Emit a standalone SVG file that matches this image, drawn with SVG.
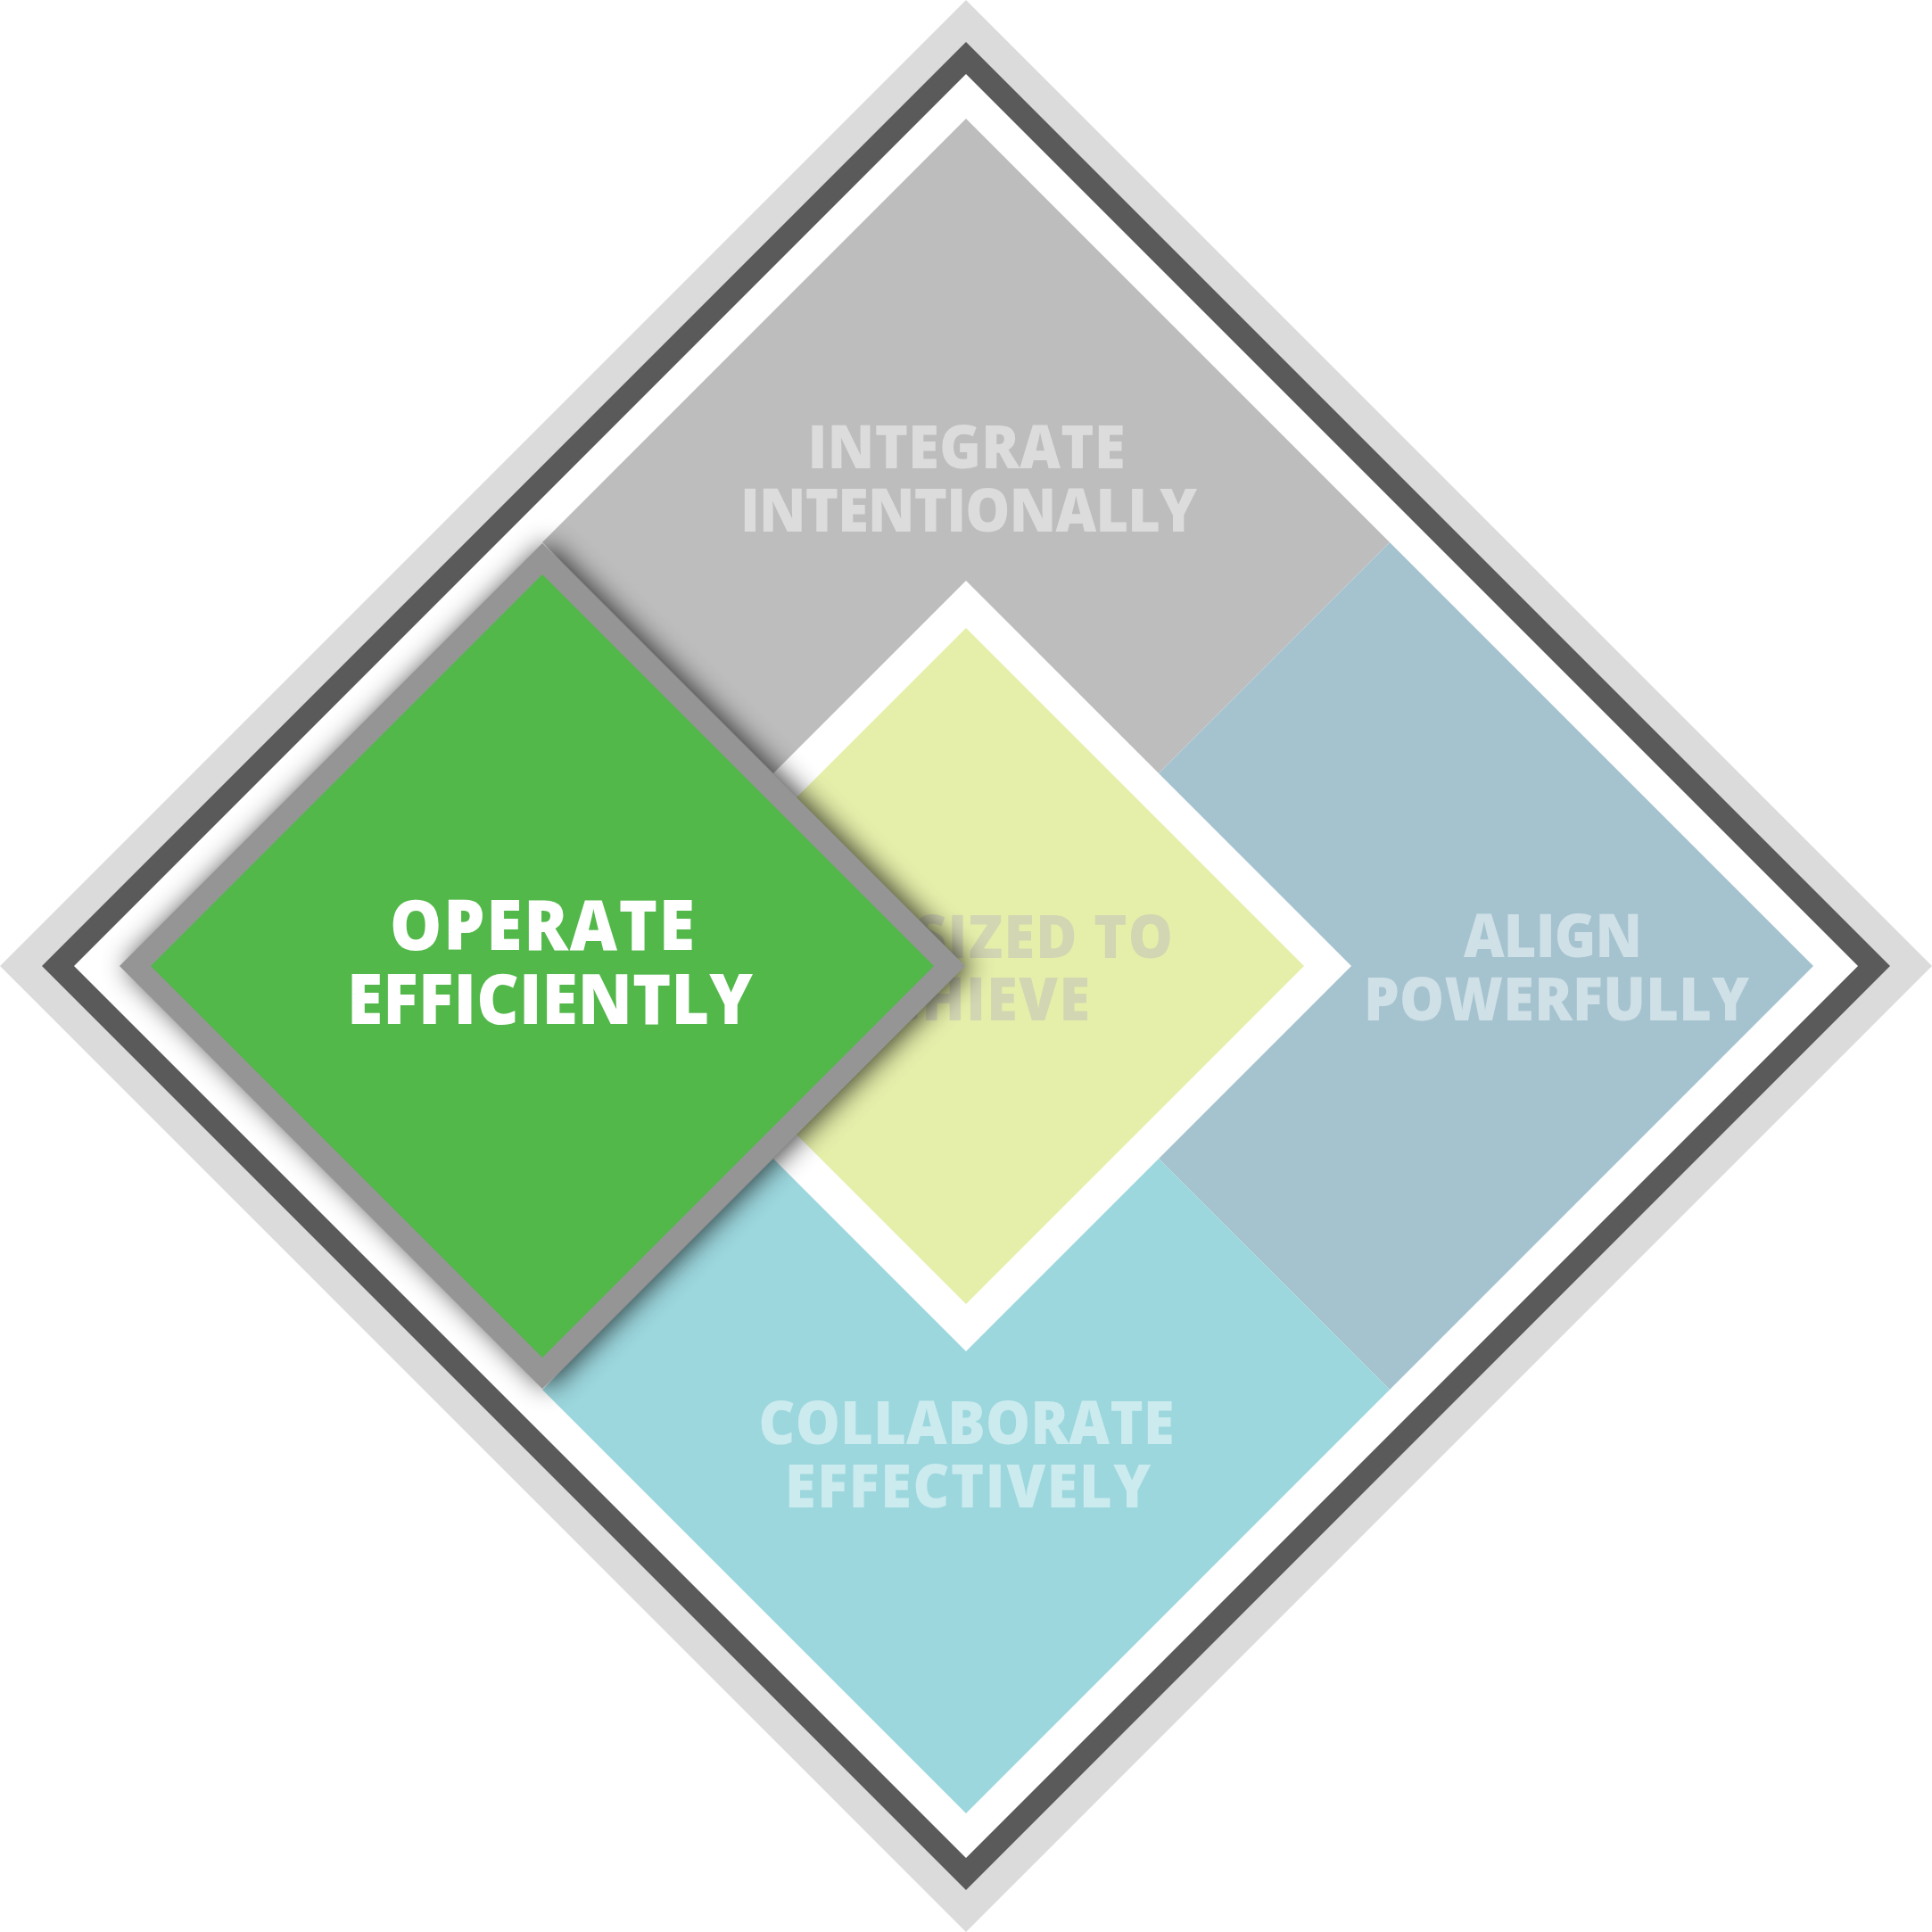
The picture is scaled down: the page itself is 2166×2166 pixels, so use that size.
<svg xmlns="http://www.w3.org/2000/svg" width="2166" height="2166" viewBox="0 0 2166 2166">
<style>
.t{font-family:"Open Sans","Noto Sans","Liberation Sans",sans-serif;font-weight:760;font-kerning:none;text-anchor:middle}
.sm{font-size:67px}
.lg{font-size:78px}
</style>
<defs>
<filter id="shadow" x="-20%" y="-20%" width="140%" height="140%">
<feGaussianBlur stdDeviation="15"/>
</filter>
</defs>
<rect width="2166" height="2166" fill="#ffffff"/>
<g id="frame">
<polygon points="1083,0 2166,1083 1083,2166 0,1083" fill="#DCDBDC"/>
<polygon points="1083,47 2119,1083 1083,2119 47,1083" fill="#5A5A5A"/>
<polygon points="1083,83 2083,1083 1083,2083 83,1083" fill="#FFFFFF"/>
</g>
<g id="integrate">
<polygon points="1083,133 1558,608 1083,1083 608,608" fill="#BDBDBD"/>
<text class="t sm" fill="#DCDCDC" transform="scale(0.94,1)"><tspan x="1152.66" y="525" textLength="378.7" lengthAdjust="spacing">INTEGRATE</tspan><tspan x="1155.32" y="596" textLength="544.7" lengthAdjust="spacing">INTENTIONALLY</tspan></text>
</g>
<g id="align">
<polygon points="1558,608 2033,1083 1558,1558 1083,1083" fill="#A5C3CF"/>
<text class="t sm" fill="#D0E0E7" transform="scale(0.94,1)"><tspan x="1852.13" y="1073" textLength="212.8" lengthAdjust="spacing">ALIGN</tspan><tspan x="1856.38" y="1144" textLength="459.6" lengthAdjust="spacing">POWERFULLY</tspan></text>
</g>
<g id="collaborate">
<polygon points="1083,1083 1558,1558 1083,2033 608,1558" fill="#9CD7DE"/>
<text class="t sm" fill="#CCEBEE" transform="scale(0.94,1)"><tspan x="1152.66" y="1619" textLength="495.7" lengthAdjust="spacing">COLLABORATE</tspan><tspan x="1154.26" y="1690" textLength="436.2" lengthAdjust="spacing">EFFECTIVELY</tspan></text>
</g>
<g id="center">
<polygon points="1083,651 1515,1083 1083,1515 651,1083" fill="#FFFFFF"/>
<polygon points="1083,704 1462,1083 1083,1462 704,1083" fill="#E6EFAA"/>
<text class="t sm" fill="#D2D6B2" transform="scale(0.94,1)"><tspan x="1244.68" y="1074" textLength="308.5" lengthAdjust="spacing">SIZED TO</tspan><tspan x="1152.13" y="1144" textLength="295.7" lengthAdjust="spacing">ACHIEVE</tspan></text>
</g>
<g id="operate">
<polygon points="614,609 1089,1083 614,1557 140,1083" fill="#000000" opacity="0.75" filter="url(#shadow)"/>
<polygon points="608,609 1082,1083 608,1557 134,1083" fill="#959595"/>
<polygon points="608,644 1047,1083 608,1522 169,1083" fill="#52B84A"/>
<text class="t lg" fill="#FFFFFF" transform="scale(0.94,1)"><tspan x="646.81" y="1065" textLength="363.8" lengthAdjust="spacing">OPERATE</tspan><tspan x="655.85" y="1148" textLength="484" lengthAdjust="spacing">EFFICIENTLY</tspan></text>
</g>
<g id="connectors"></g>
</svg>
